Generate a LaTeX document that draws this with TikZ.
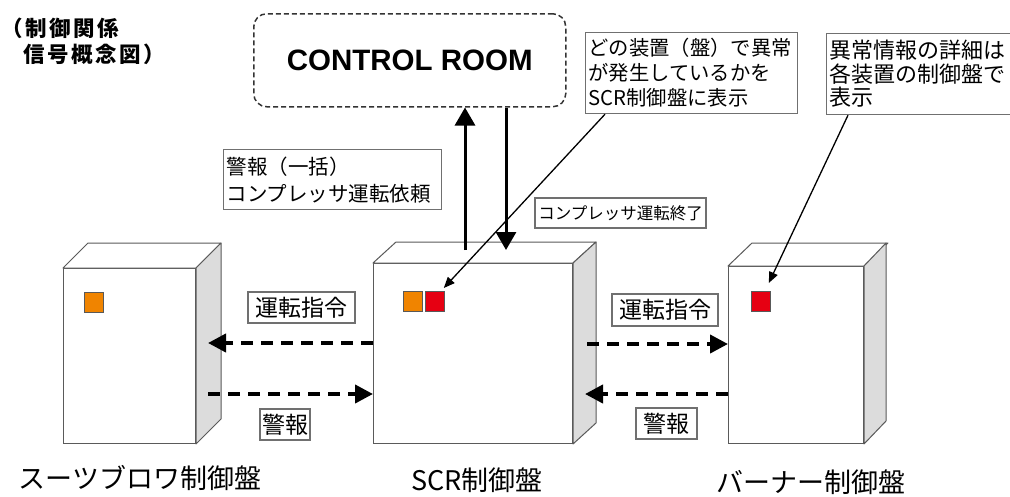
\documentclass[tikz,border=0pt]{standalone}
\usepackage{fontspec}
\usetikzlibrary{arrows.meta}
\newfontfamily\jp{Noto Sans CJK JP}
\newfontfamily\jpwide[LetterSpace=12]{Noto Sans CJK JP}
\newfontfamily\lat{Liberation Sans}
\definecolor{lamporange}{HTML}{F08400}
\definecolor{lampred}{HTML}{E60012}
\definecolor{sidegray}{HTML}{DCDCDC}
\definecolor{edgegray}{HTML}{5A5A5A}
\definecolor{boxgray}{HTML}{707070}

\begin{document}
\begin{tikzpicture}[x=1pt,y=-1pt,
  front/.style={draw=edgegray, line width=1pt, fill=white, inner sep=0pt, anchor=north west},
  sideface/.style={draw=edgegray, line width=1pt, fill=sidegray, line join=round},
  topface/.style={draw=edgegray, line width=1pt, fill=white, line join=round},
  lamp/.style={draw=black!65, line width=0.8pt, minimum width=19pt, minimum height=20pt, inner sep=0pt, anchor=north west},
  tag/.style={draw=boxgray, line width=1.2pt, fill=white, inner sep=0pt, font=\jp\fontsize{23}{26}\selectfont},
  note/.style={draw=boxgray, line width=1.2pt, fill=white, inner xsep=3pt, inner ysep=0pt, align=left, anchor=north west},
  caption/.style={inner sep=0pt, font=\jp\fontsize{27}{30}\selectfont},
  signal/.style={line width=4pt, dash pattern=on 12pt off 8pt, -{Triangle[length=18pt,width=18pt]}},
  uplink/.style={line width=3pt, -{Triangle[length=18pt,width=20pt]}},
  pointer/.style={line width=1.3pt, -{Triangle[length=11pt,width=9pt]}}
]
\clip (0,0) rectangle (1010,496);
\fill[white] (0,0) rectangle (1010,496);

% title
\node[inner sep=0pt, anchor=north west, align=left, font=\jpwide\bfseries\fontsize{21.5}{26}\selectfont] (title) at (1,18)
  {（制御関係\\\hspace*{22pt}信号概念図）};

% control room
\node[draw=black!80, line width=1.5pt, dash pattern=on 5pt off 3pt, rounded corners=13pt,
      minimum width=312pt, minimum height=93pt, anchor=north west, inner sep=0pt,
      font=\lat\bfseries\fontsize{29.5}{30}\selectfont] (cr) at (253,13) {CONTROL ROOM};

% cabinets: front face, top face, side face
\node[front, minimum width=132pt, minimum height=175pt] (sb) at (63,268) {};
\draw[topface] (sb.north west) -- ([shift={(25,-25)}]sb.north west) -- ([shift={(25,-25)}]sb.north east) -- (sb.north east) -- cycle;
\draw[sideface] (sb.north east) -- ([shift={(25,-25)}]sb.north east) -- ([shift={(25,-25)}]sb.south east) -- (sb.south east) -- cycle;

\node[front, minimum width=199pt, minimum height=180pt] (scr) at (373,263) {};
\draw[topface] (scr.north west) -- ([shift={(23,-21)}]scr.north west) -- ([shift={(23,-21)}]scr.north east) -- (scr.north east) -- cycle;
\draw[sideface] (scr.north east) -- ([shift={(23,-21)}]scr.north east) -- ([shift={(23,-21)}]scr.south east) -- (scr.south east) -- cycle;

\node[front, minimum width=135pt, minimum height=177pt] (bn) at (728,266) {};
\draw[topface] (bn.north west) -- ([shift={(24,-23)}]bn.north west) -- ([shift={(24,-23)}]bn.north east) -- (bn.north east) -- cycle;
\draw[sideface] (bn.north east) -- ([shift={(22,-23)}]bn.north east) -- ([shift={(22,-23)}]bn.south east) -- (bn.south east) -- cycle;

% indicator lamps
\node[lamp, fill=lamporange] (sblamp) at (84,292) {};
\node[lamp, fill=lamporange] (scrlamp) at (403,291) {};
\node[lamp, fill=lampred] (scrred) at (425,291) {};
\node[lamp, fill=lampred] (bnred) at (751,291) {};

% captions
\node[caption] (sbcap) at (140,478) {スーツブロワ制御盤};
\node[caption] (scrcap) at (477,480) {SCR制御盤};
\node[caption] (bncap) at (811,482) {バーナー制御盤};

% links to the control room
\coordinate (upfoot) at (465,250);
\coordinate (dnfoot) at (506,250);
\draw[uplink] (upfoot) -- (upfoot |- cr.south);
\draw[uplink] (dnfoot |- cr.south) -- (dnfoot);

% signals between panels
\coordinate (sbside1) at (208,343);
\coordinate (sbside2) at (208,394);
\coordinate (scrside1) at (587,344);
\coordinate (scrside2) at (585,394);
\draw[signal] (scr.west |- sbside1) -- (sbside1);
\draw[signal] (sbside2) -- (scr.west |- sbside2);
\draw[signal] (scrside1) -- (bn.west |- scrside1);
\draw[signal] (bn.west |- scrside2) -- (scrside2);

% signal labels
\node[tag, minimum width=107pt, minimum height=31pt] (cmdL) at (301.5,307.5) {運転指令};
\node[tag, minimum width=50pt, minimum height=31pt] (almL) at (285,424.5) {警報};
\node[tag, minimum width=106pt, minimum height=32pt] (cmdR) at (665,310) {運転指令};
\node[tag, minimum width=61pt, minimum height=31pt] (almR) at (666.5,423.5) {警報};
\node[note, text width=212pt, minimum height=60pt, font=\jp\fontsize{20.5}{27}\selectfont] (req) at (223,149)
  {警報（一括）\\コンプレッサ運転依頼};
\node[tag, minimum width=171pt, minimum height=30pt, font=\jp\fontsize{16.5}{20}\selectfont] (done) at (620.5,213) {コンプレッサ運転終了};

% callouts
\node[note, text width=206pt, minimum height=81pt, font=\jp\fontsize{20.3}{25}\selectfont] (c1) at (585,32)
  {どの装置（盤）で異常\\が発生しているかを\\SCR制御盤に表示};
\node[note, text width=220pt, minimum height=81pt, font=\jp\fontsize{22}{23.5}\selectfont] (c2) at (826,33)
  {異常情報の詳細は\\各装置の制御盤で\\表示};
\draw[pointer] ([xshift=20pt]c1.south west) -- ([shift={(-1,-3)}]scrred.north east);
\draw[pointer] ([xshift=22pt]c2.south west) -- ([shift={(-2,-8)}]bnred.north east);
\end{tikzpicture}
\end{document}
